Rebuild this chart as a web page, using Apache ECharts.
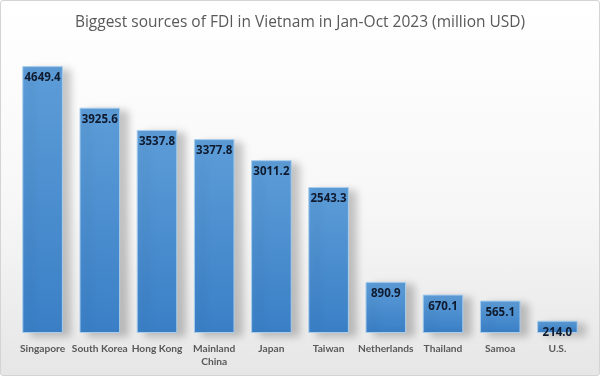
<!DOCTYPE html>
<html>
<head>
<meta charset="utf-8">
<script src="https://cdn.jsdelivr.net/npm/echarts@6/dist/echarts.min.js"></script>
<style>
  html, body { margin: 0; padding: 0; background: #fff; }
  #chart {
    width: 600px; height: 376px; box-sizing: border-box;
    border: 1px solid #d4d4d4; border-radius: 3px;
    background: linear-gradient(to bottom, #ffffff 0%, #f7f7f7 55%, #e6e6e6 100%);
  }
</style>
</head>
<body>
<div id="chart"></div>
<script>
var countries = ['Singapore', 'South Korea', 'Hong Kong', 'Mainland\nChina', 'Japan',
                 'Taiwan', 'Netherlands', 'Thailand', 'Samoa', 'U.S.'];
var fdiValues = [4649.4, 3925.6, 3537.8, 3377.8, 3011.2, 2543.3, 890.9, 670.1, 565.1, 214.0];

var chart = echarts.init(document.getElementById('chart'));

var option = {
  title: {
    text: 'Biggest sources of FDI in Vietnam in Jan-Oct 2023 (million USD)',
    left: 'center',
    top: 9,
    textStyle: { fontFamily: 'Open Sans', fontSize: 15.5, fontWeight: 'normal', color: '#595959' }
  },
  grid: { left: 13, right: 13, top: 45, bottom: 42 },
  xAxis: {
    type: 'category',
    data: countries,
    axisLine: { show: false },
    axisTick: { show: false },
    axisLabel: {
      interval: 0, margin: 9, color: '#595959',
      fontFamily: 'Lato', fontSize: 10.2, fontWeight: 'bold', lineHeight: 13
    }
  },
  yAxis: {
    type: 'value', min: 0, max: 5000, show: false,
    splitLine: { show: false }
  },
  series: [{
    type: 'bar',
    data: fdiValues,
    barWidth: '71%',
    itemStyle: {
      color: new echarts.graphic.LinearGradient(0, 0, 0, 1, [
        { offset: 0, color: '#5d9dd8' },
        { offset: 1, color: '#3a7fc6' }
      ]),
      borderColor: '#a9cdeb',
      borderWidth: 1,
      shadowColor: 'rgba(0,0,0,0.22)',
      shadowBlur: 8,
      shadowOffsetX: 8,
      shadowOffsetY: 3
    },
    label: {
      show: true,
      position: 'insideTop',
      distance: 6,
      color: '#0f1a2e',
      fontFamily: 'Open Sans',
      fontWeight: 'bold',
      fontSize: 11.5,
      formatter: function(p) { return p.value.toFixed(1); }
    }
  }]
};

chart.setOption(option);
</script>
</body>
</html>
